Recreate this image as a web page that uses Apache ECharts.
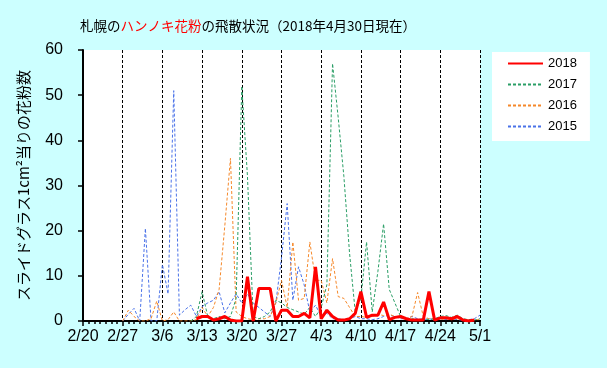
<!DOCTYPE html>
<html>
<head>
<meta charset="utf-8">
<script src="https://cdn.jsdelivr.net/npm/echarts@6/dist/echarts.min.js"></script>
<style>
html,body{margin:0;padding:0;background:#ccffff;}
#chart{width:607px;height:368px;}
</style>
</head>
<body>
<div id="chart"></div>
<script>
// Day index 0 = 2/20 ... 70 = 5/1
var tickLabels = ['2/20','2/27','3/6','3/13','3/20','3/27','4/3','4/10','4/17','4/24','5/1'];
var seriesNames = ['2018','2017','2016','2015'];

var v2018 = [null,null,null,null,null,null,null,null,null,null,
  null,null,null,null,null,null,null,null,null,null,
  0.5,1,1,0.2,0.5,1,0.2,0,0,9.8,
  0,7.2,7.2,7.2,0,2.4,2.4,1,1,1.7,
  0.7,12,0.5,2.4,1,0.2,0.2,0.5,1.7,6.5,
  0.8,1.3,1.3,4.2,0.3,0.8,1,0.5,0.2,0.2,
  0.2,6.5,0.2,0.7,0.7,0.5,1,0.2,0,0.2,
  null];

var v2017 = [null,null,null,null,null,null,null,null,null,null,
  null,null,null,null,null,null,null,null,null,0,
  1,6.5,1,0.5,1,0.5,1,5,52,32,
  1,0.5,1,2,4.6,4,3,2.5,2,1.5,
  3,1,3,8,57,45,32,15,2,5,
  17.5,2,11,21.5,7,4,1,0.5,0.5,0.3,
  0.5,0.3,0.5,1,1.2,0.8,1.3,0.5,0.3,0.2,
  0.5];

var v2016 = [null,null,null,null,null,null,null,0,2.4,1,
  0,0,0.5,4.4,0,0.3,2,0,0,0,
  0.3,3,1,3,7,21,36,2,1,0.5,
  0.3,0.5,0.5,1,4,9,3,17.5,4.6,5,
  17.5,9,9,4,13.8,5.4,5,3,1,1,
  0.8,1,1.5,1.2,1.5,1,0.8,0.5,1,6.3,
  1,0.5,0.5,0.3,0.5,0.3,0.5,0.3,0.2,0.3,
  0.3];

var v2015 = [null,null,null,null,null,null,null,0,1.5,2.8,
  0,20.5,0,0,12.5,6,51,1.3,2.5,3.5,
  1,3.2,4,4.6,6.5,1.8,4,6,4,6,
  4,3,2,1,4,14,26,4.6,12,8,
  2,3.5,1,1.7,0.5,0.5,0.3,0.5,1,0.5,
  0.5,0.3,0.5,1,1.3,1,0.5,0.5,1,0.5,
  0.3,0.5,0.3,0.5,0.3,0.5,0.3,0.2,0.3,0.5,
  1.3];

function pairs(arr){
  var out = [];
  for (var i = 0; i < arr.length; i++) out.push([i, arr[i]]);
  return out;
}

var chart = echarts.init(document.getElementById('chart'), null, {renderer:'canvas'});
var jp = "'Noto Sans CJK JP', sans-serif";
var lat = "'Liberation Sans', Arial, sans-serif";

chart.setOption({
  animation: false,
  backgroundColor: '#ccffff',
  title: {
    left: 75, top: 14,
    text: '{a|札幌の}{r|ハンノキ花粉}{a|の飛散状況（2018年4月30日現在）}',
    textStyle: {
      fontFamily: jp, fontSize: 13.5, fontWeight: 'normal', color: '#000',
      rich: {
        a: {fontFamily: jp, fontSize: 13.5, color: '#000'},
        r: {fontFamily: jp, fontSize: 13.5, color: '#ff0000'}
      }
    }
  },
  legend: {
    orient: 'vertical',
    left: 492, top: 52,
    backgroundColor: '#ffffff',
    padding: [5, 13, 8, 15],
    itemWidth: 35, itemHeight: 14, itemGap: 8,
    itemStyle: {opacity: 0},
    data: seriesNames,
    textStyle: {fontFamily: lat, fontSize: 13, color: '#000'}
  },
  grid: {
    left: 83, top: 50, right: 127, bottom: 47,
    show: true, backgroundColor: '#ffffff', borderWidth: 0
  },
  xAxis: {
    type: 'value', min: 0, max: 70, interval: 7,
    axisLine: {show: true, onZero: false, lineStyle: {color: '#000', width: 2}},
    axisTick: {show: true, inside: false, length: 5, lineStyle: {color: '#000', width: 1.5}},
    minorTick: {show: true, splitNumber: 7, length: 3, lineStyle: {color: '#000', width: 1.5}},
    splitLine: {show: true, showMinLine: false, showMaxLine: true, lineStyle: {color: '#000', width: 1, type: [3, 2]}},
    axisLabel: {
      margin: 8, fontFamily: lat, fontSize: 16, color: '#000',
      formatter: function(v){ return tickLabels[Math.round(v / 7)] || ''; }
    }
  },
  yAxis: {
    type: 'value', min: 0, max: 60, interval: 10,
    name: 'スライドグラス1cm²当りの花粉数',
    nameLocation: 'middle', nameRotate: 90, nameGap: 52,
    nameTextStyle: {fontFamily: jp, fontSize: 15, color: '#000'},
    axisLine: {show: true, lineStyle: {color: '#000', width: 2}},
    axisTick: {show: true, inside: false, length: 5, lineStyle: {color: '#000', width: 1.5}},
    splitLine: {show: false},
    axisLabel: {margin: 20, fontFamily: lat, fontSize: 16, color: '#000'}
  },
  series: [
    {name: '2015', type: 'line', data: pairs(v2015), symbol: 'none', z: 3,
     lineStyle: {color: '#4a72e8', width: 1, type: [3, 2]}, itemStyle: {color: '#4a72e8'}},
    {name: '2016', type: 'line', data: pairs(v2016), symbol: 'none', z: 4,
     lineStyle: {color: '#f5882a', width: 1, type: [3, 2]}, itemStyle: {color: '#f5882a'}},
    {name: '2017', type: 'line', data: pairs(v2017), symbol: 'none', z: 5,
     lineStyle: {color: '#2a9e66', width: 1, type: [3, 2]}, itemStyle: {color: '#2a9e66'}},
    {name: '2018', type: 'line', data: pairs(v2018), symbol: 'none', z: 6,
     lineStyle: {color: '#ff0000', width: 3}, itemStyle: {color: '#ff0000'}}
  ]
});
</script>
</body>
</html>
